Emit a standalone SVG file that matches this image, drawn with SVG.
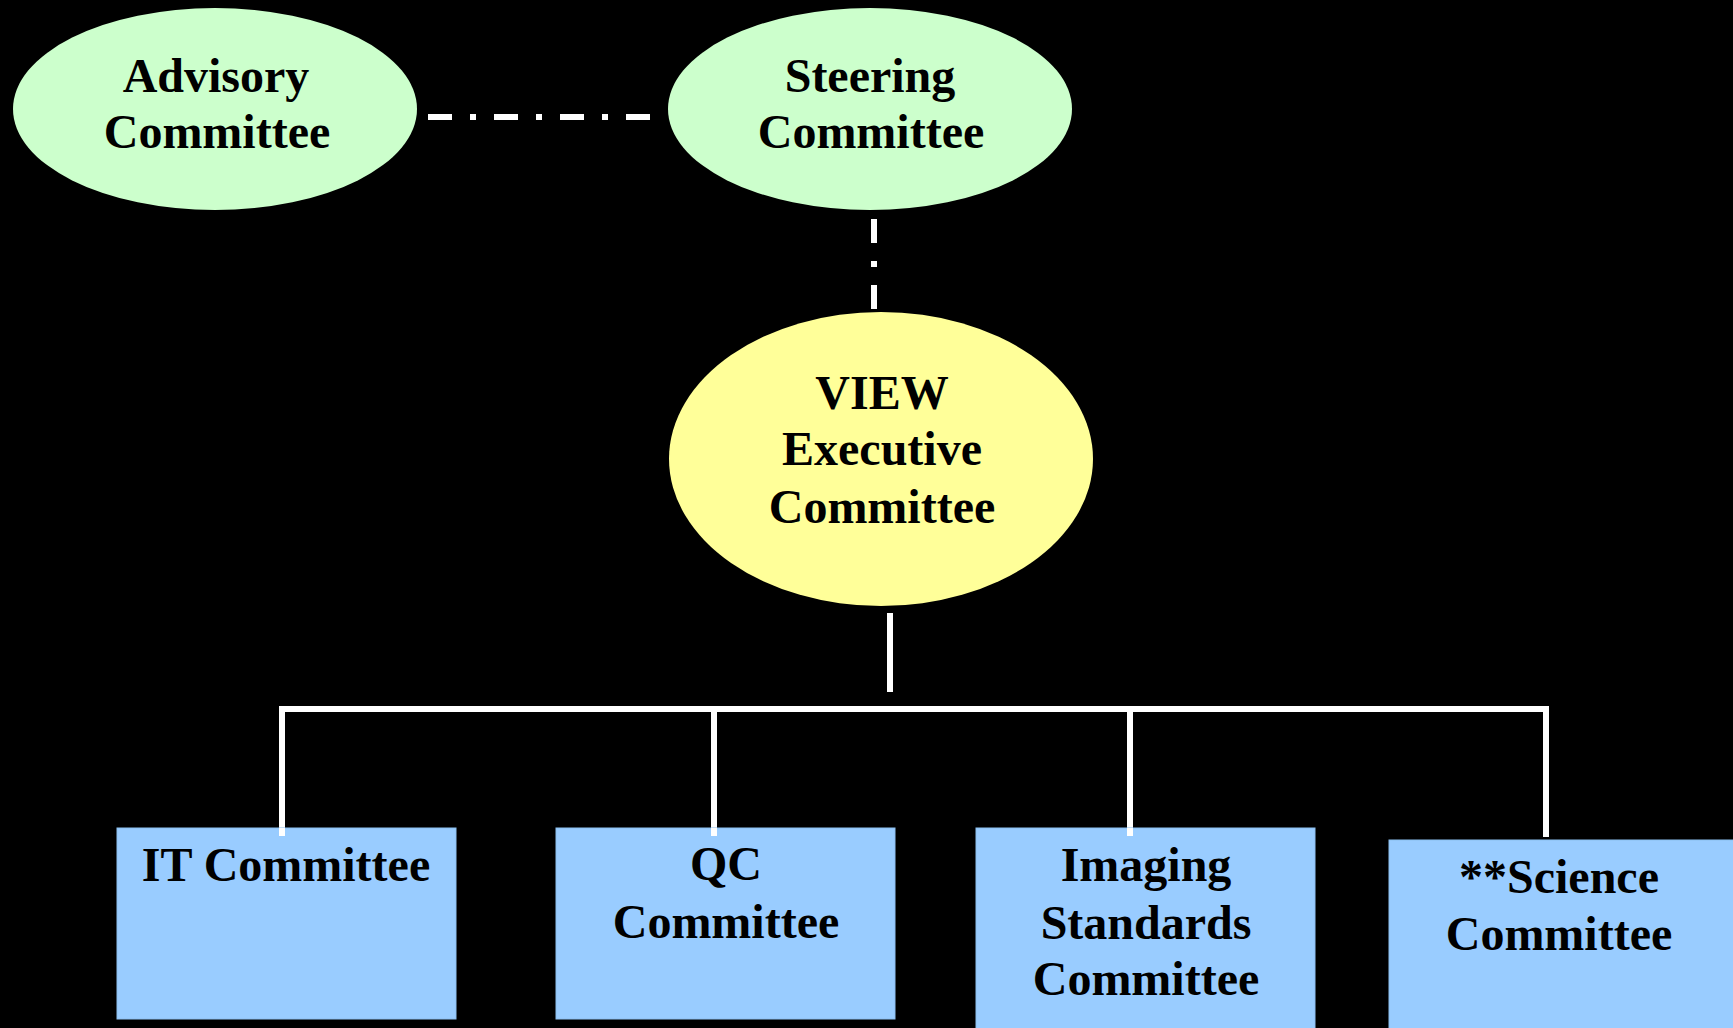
<svg xmlns="http://www.w3.org/2000/svg" width="1733" height="1028" viewBox="0 0 1733 1028">
<style>
.bg{fill:#000000}
.green{fill:#CCFFCC}
.yellow{fill:#FFFF99}
.box{fill:#99CCFF;stroke:#8CBFF0;stroke-width:1}
.lbl{font-family:"Liberation Serif","Times New Roman",serif;font-weight:bold;font-size:48px;fill:#000000;text-anchor:middle}
.dd{stroke:#FFFFFF;stroke-width:6;fill:none;stroke-dasharray:24 18 6 18;stroke-linecap:butt}
.solid{stroke:#FFFFFF;stroke-width:6;fill:none;stroke-linecap:butt}
</style>
<rect class="bg" x="0" y="0" width="1733" height="1028"/>
<g id="connectors">
<line class="dd" x1="428" y1="117" x2="650" y2="117"/>
<line class="dd" x1="874" y1="219" x2="874" y2="309"/>
<line class="solid" x1="890" y1="613" x2="890" y2="692"/>
<polyline class="solid" points="282,836 282,709 1546,709 1546,837"/>
<line class="solid" x1="714" y1="709" x2="714" y2="836"/>
<line class="solid" x1="1130" y1="709" x2="1130" y2="836"/>
</g>
<g id="advisory">
<ellipse class="green" cx="215" cy="109" rx="202" ry="101"/>
<text class="lbl" x="216" y="92">Advisory</text>
<text class="lbl" x="217" y="148">Committee</text>
</g>
<g id="steering">
<ellipse class="green" cx="870" cy="109" rx="202" ry="101"/>
<text class="lbl" x="870" y="92">Steering</text>
<text class="lbl" x="871" y="148">Committee</text>
</g>
<g id="view">
<ellipse class="yellow" cx="881" cy="459" rx="212" ry="147"/>
<text class="lbl" x="882" y="409">VIEW</text>
<text class="lbl" x="882" y="465">Executive</text>
<text class="lbl" x="882" y="523">Committee</text>
</g>
<g id="it">
<rect class="box" x="117" y="828" width="339" height="191"/>
<line class="solid" x1="282" y1="828" x2="282" y2="836"/>
<text class="lbl" x="286" y="881">IT Committee</text>
</g>
<g id="qc">
<rect class="box" x="556" y="828" width="339" height="191"/>
<line class="solid" x1="714" y1="828" x2="714" y2="836"/>
<text class="lbl" x="726" y="880">QC</text>
<text class="lbl" x="726" y="938">Committee</text>
</g>
<g id="imaging">
<rect class="box" x="976" y="828" width="339" height="210"/>
<line class="solid" x1="1130" y1="828" x2="1130" y2="836"/>
<text class="lbl" x="1146" y="881">Imaging</text>
<text class="lbl" x="1146" y="939">Standards</text>
<text class="lbl" x="1146" y="995">Committee</text>
</g>
<g id="science">
<rect class="box" x="1389" y="840" width="350" height="200"/>
<text class="lbl" x="1559" y="893">**Science</text>
<text class="lbl" x="1559" y="950">Committee</text>
</g>
</svg>
